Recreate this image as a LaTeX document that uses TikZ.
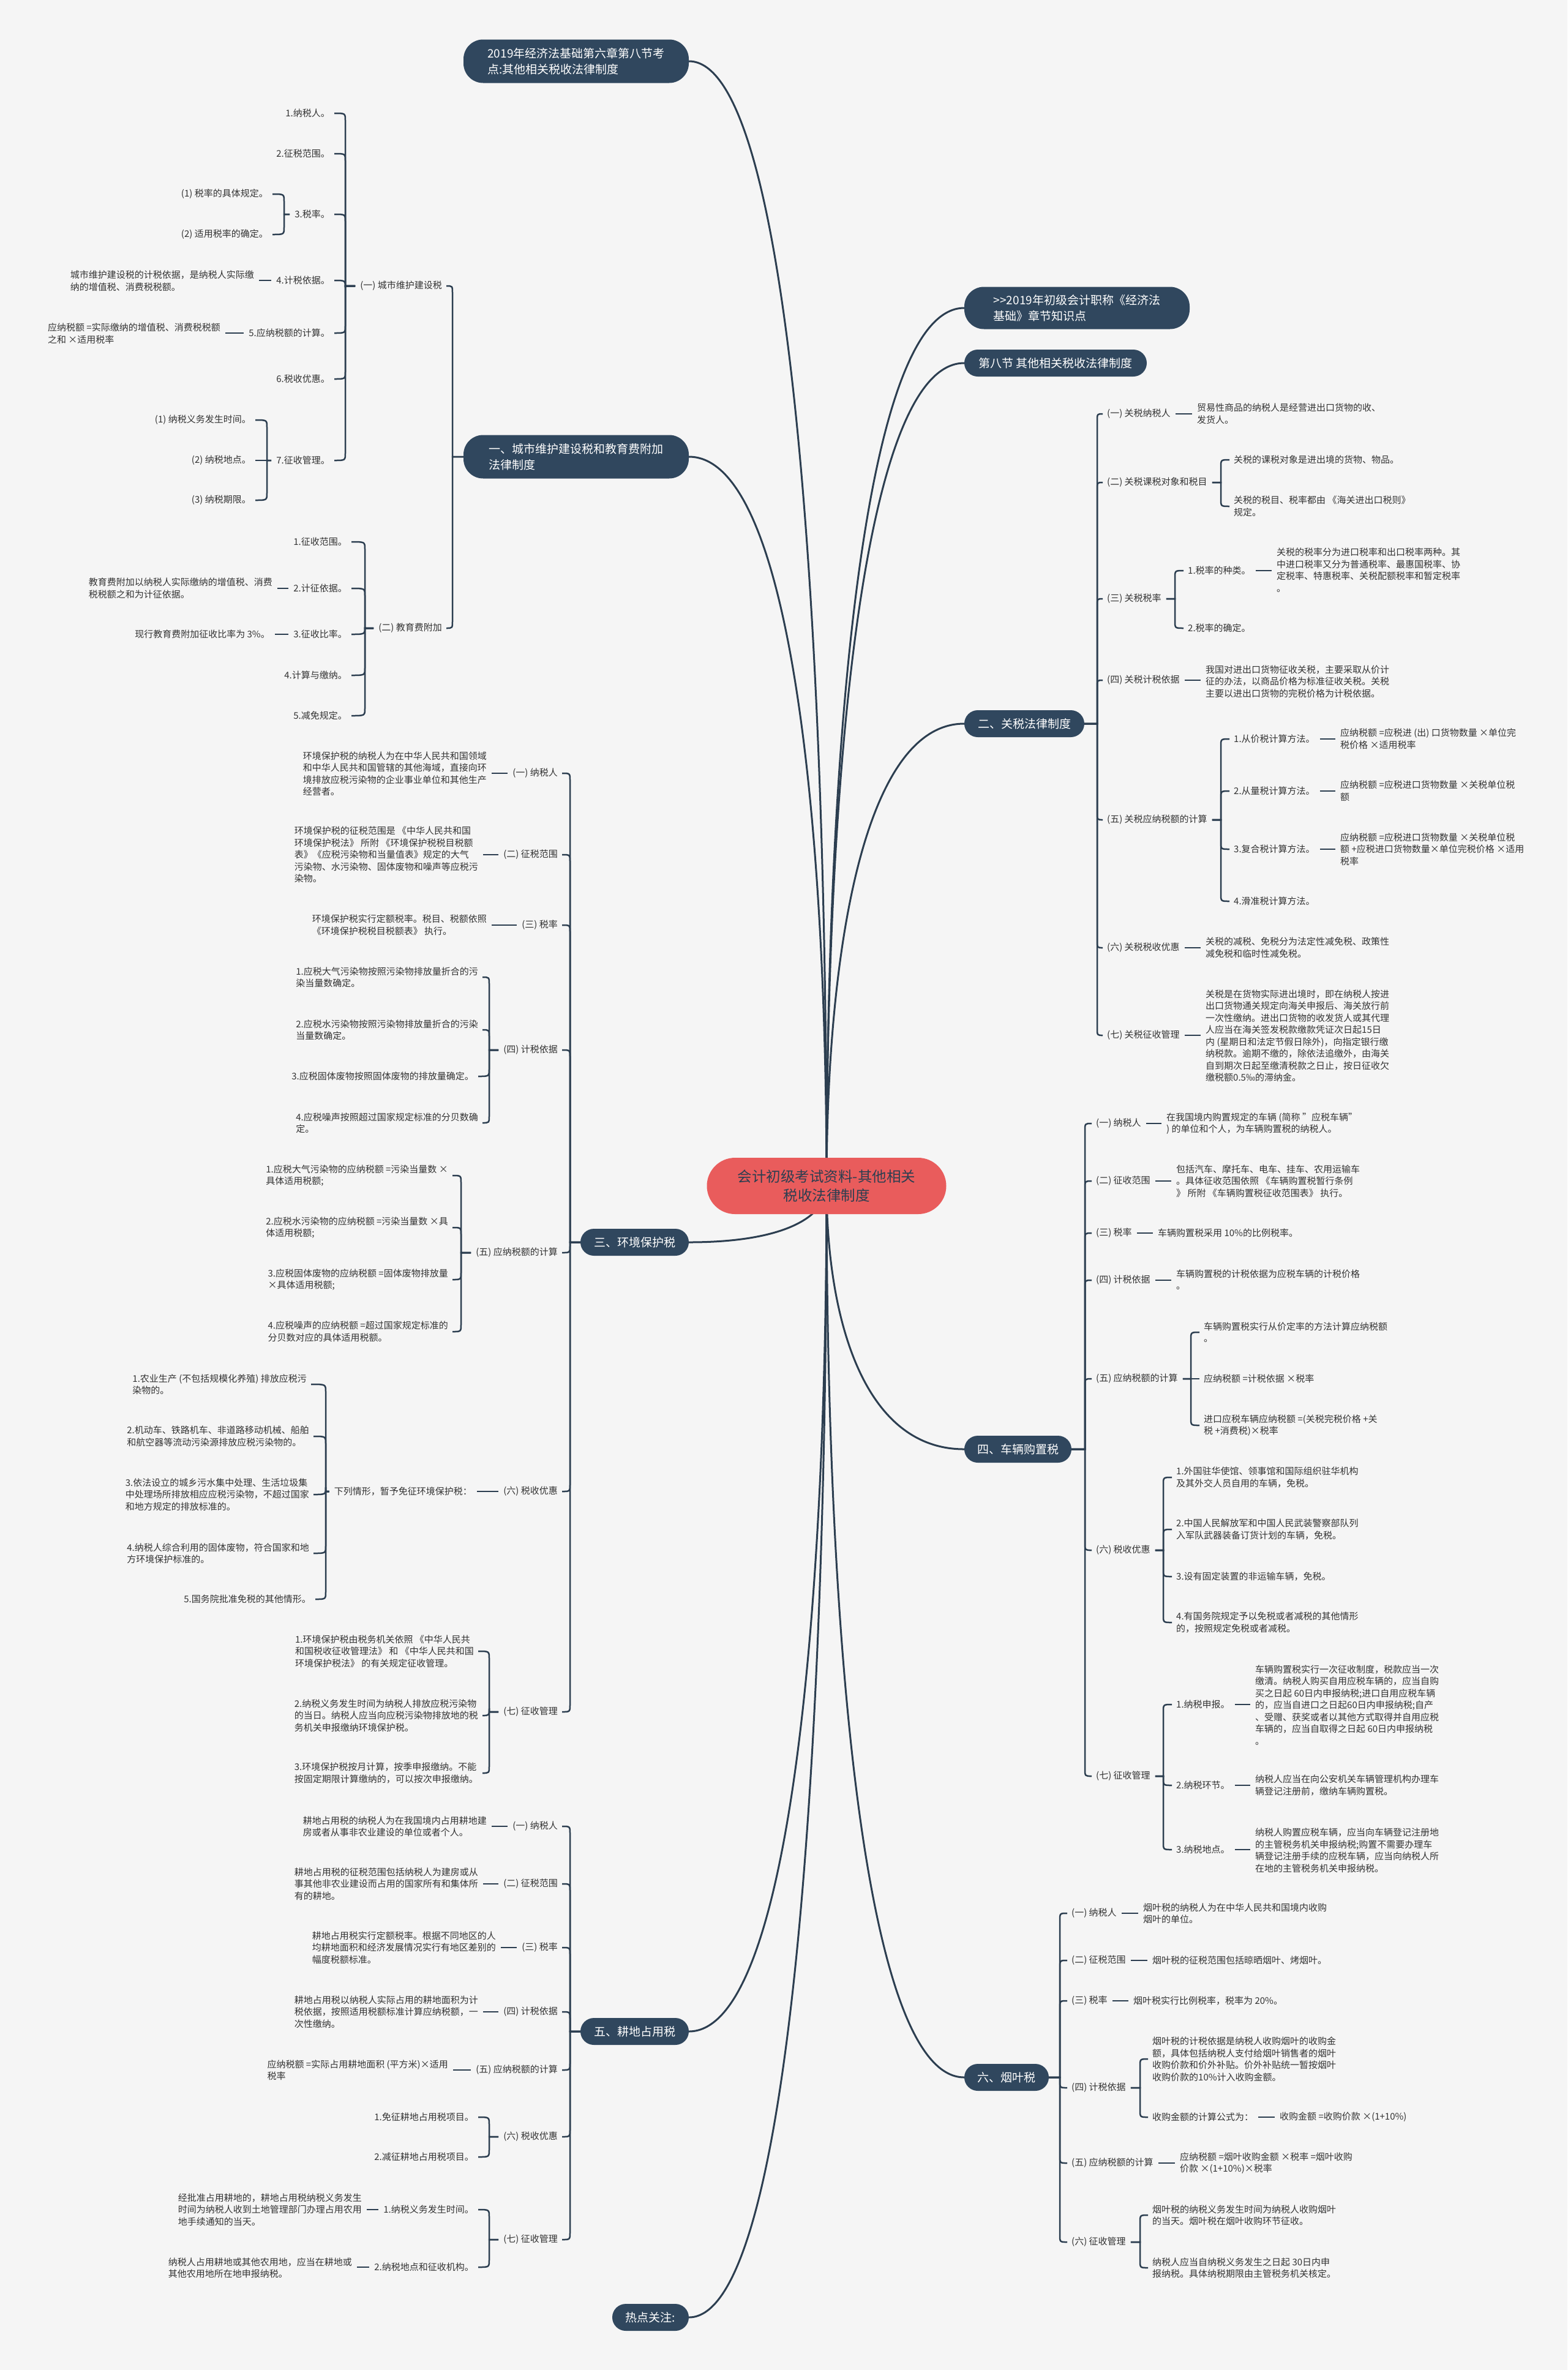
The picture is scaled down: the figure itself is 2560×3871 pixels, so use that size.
\documentclass[tikz,border=0pt]{standalone}
\usepackage{fontspec}
\setmainfont{Noto Sans CJK SC}
\usetikzlibrary{calc}
\definecolor{bgc}{HTML}{F5F5F5}
\definecolor{lc}{HTML}{2C3E50}
\definecolor{mc}{HTML}{30475E}
\definecolor{tc}{HTML}{333333}
\definecolor{rootc}{HTML}{E95C5C}
\definecolor{roottc}{HTML}{2C3E50}
\pgfdeclarelayer{back}\pgfdeclarelayer{bg}
\pgfsetlayers{back,bg,main}
\tikzset{
  conn/.style={draw=lc, line width=2.5pt},
  rconn/.style={draw=lc, line width=3pt},
  txt/.style={inner sep=0pt, font=\fontsize{15}{19.5}\selectfont, text=tc, align=left},
  mainnode/.style={fill=mc, text=white, rounded corners=22pt, font=\fontsize{19}{26}\selectfont, inner sep=0pt, align=left, minimum height=44pt},
}
\newcommand\tL[3]{\node[txt,anchor=east] (#1) at (#2) {#3};}
\newcommand\tR[3]{\node[txt,anchor=west] (#1) at (#2) {#3};}
\newcommand\hookL[4][8pt]{\begin{pgfonlayer}{bg}\draw[conn] let \p1=(#2.west), \p2=(#3.east) in ({\x1-#1},\y1) -- (#4pt,\y1) -- (#4pt,{\y2-12pt*sign(\y2-\y1)}) .. controls (#4pt,\y2) .. ({\x2+7pt},\y2);\end{pgfonlayer}}
\newcommand\hookR[4][8pt]{\begin{pgfonlayer}{bg}\draw[conn] let \p1=(#2.east), \p2=(#3.west) in ({\x1+#1},\y1) -- (#4pt,\y1) -- (#4pt,{\y2-12pt*sign(\y2-\y1)}) .. controls (#4pt,\y2) .. ({\x2-7pt},\y2);\end{pgfonlayer}}
\newcommand\linkL[2]{\begin{pgfonlayer}{bg}\draw[conn] let \p1=(#1.west), \p2=(#2.east) in ({\x1-8pt},\y1) -- ({\x2+8pt},\y1);\end{pgfonlayer}}
\newcommand\linkR[2]{\begin{pgfonlayer}{bg}\draw[conn] let \p1=(#1.east), \p2=(#2.west) in ({\x1+8pt},\y1) -- ({\x2-8pt},\y1);\end{pgfonlayer}}
\newcommand\rootL[1]{\begin{pgfonlayer}{bg}\draw[rconn] let \p1=(root.center), \p2=(#1.east) in (\p2) .. controls ({\x2+165pt},\y2) and (\x1,{(\y1+\y2)/2}) .. (\p1);\end{pgfonlayer}}
\newcommand\rootR[1]{\begin{pgfonlayer}{bg}\draw[rconn] let \p1=(root.center), \p2=(#1.west) in (\p2) .. controls ({\x2-165pt},\y2) and (\x1,{(\y1+\y2)/2}) .. (\p1);\end{pgfonlayer}}
\begin{document}
\begin{tikzpicture}[x=1pt,y=-1pt]
\begin{pgfonlayer}{back}
\fill[bgc] (0,0) rectangle (2560,3871);
\end{pgfonlayer}
\useasboundingbox (0,0) rectangle (2560,3871);

% ---------- root and main nodes ----------
\node[fill=rootc, text=roottc, rounded corners=46pt, minimum width=391pt, minimum height=92pt, inner sep=0pt, font=\fontsize{23.5}{31}\selectfont, align=center] (root) at (1350,1937) {会计初级考试资料-其他相关\\税收法律制度};
\node[mainnode, minimum width=368pt, minimum height=71pt, rounded corners=32pt] (title) at (941,100) {2019年经济法基础第六章第八节考\\点:其他相关税收法律制度};
\node[mainnode, minimum width=368pt, minimum height=71pt, rounded corners=32pt] (m1) at (941,746) {一、城市维护建设税和教育费附加\\法律制度};
\node[mainnode, minimum width=177pt] (m3) at (1036.5,2029) {三、环境保护税};
\node[mainnode, minimum width=177pt] (m5) at (1036.5,3318) {五、耕地占用税};
\node[mainnode, minimum width=125pt] (hot) at (1062.5,3785) {热点关注:};
\node[mainnode, minimum width=368pt, minimum height=69pt, rounded corners=32pt] (r1) at (1759,503) {>{}>2019年初级会计职称《经济法\\基础》章节知识点};
\node[mainnode, minimum width=298pt] (r2) at (1724,593) {第八节 其他相关税收法律制度};
\node[mainnode, minimum width=196pt] (m2) at (1673,1182) {二、关税法律制度};
\node[mainnode, minimum width=175pt] (m4) at (1662.5,2367) {四、车辆购置税};
\node[mainnode, minimum width=138pt] (m6) at (1644,3393) {六、烟叶税};

\rootL{title}\rootL{m1}\rootL{m3}\rootL{m5}\rootL{hot}
\rootR{r1}\rootR{r2}\rootR{m2}\rootR{m4}\rootR{m6}

% ---------- Section 1 ----------
\tL{a1}{722,467}{(一) 城市维护建设税}
\tL{a11}{539,185}{1.纳税人。}
\tL{a12}{539,251}{2.征税范围。}
\tL{a13}{539,350}{3.税率。}
\tL{a131}{438,317}{(1) 税率的具体规定。}
\tL{a132}{438,383}{(2) 适用税率的确定。}
\tL{a14}{539,458}{4.计税依据。}
\tL{a14t}{415,459}{城市维护建设税的计税依据，是纳税人实际缴\\纳的增值税、消费税税额。}
\tL{a15}{539,544}{5.应纳税额的计算。}
\tL{a15t}{360,545}{应纳税额 =实际缴纳的增值税、消费税税额\\之和 ×适用税率}
\tL{a16}{539,619}{6.税收优惠。}
\tL{a17}{539,752}{7.征收管理。}
\tL{a171}{410,686}{(1) 纳税义务发生时间。}
\tL{a172}{410,752}{(2) 纳税地点。}
\tL{a173}{410,817}{(3) 纳税期限。}
\tL{a2}{722,1026}{(二) 教育费附加}
\tL{a21}{567,885}{1.征收范围。}
\tL{a22}{567,961}{2.计征依据。}
\tL{a22t}{445,961}{教育费附加以纳税人实际缴纳的增值税、消费\\税税额之和为计征依据。}
\tL{a23}{567,1036}{3.征收比率。}
\tL{a23t}{441,1036}{现行教育费附加征收比率为 3\%。}
\tL{a24}{567,1103}{4.计算与缴纳。}
\tL{a25}{567,1169}{5.减免规定。}
\hookL[0pt]{m1}{a1}{739}\hookL[0pt]{m1}{a2}{739}
\hookL{a1}{a11}{564}\hookL{a1}{a12}{564}\hookL{a1}{a13}{564}\hookL{a1}{a14}{564}
\hookL{a1}{a15}{564}\hookL{a1}{a16}{564}\hookL{a1}{a17}{564}
\hookL{a13}{a131}{464}\hookL{a13}{a132}{464}
\linkL{a14}{a14t}\linkL{a15}{a15t}
\hookL{a17}{a171}{436}\hookL{a17}{a172}{436}\hookL{a17}{a173}{436}
\hookL{a2}{a21}{596}\hookL{a2}{a22}{596}\hookL{a2}{a23}{596}\hookL{a2}{a24}{596}\hookL{a2}{a25}{596}
\linkL{a22}{a22t}\linkL{a23}{a23t}

% ---------- Section 3 ----------
\tL{c1}{911,1263}{(一) 纳税人}
\tL{c1t}{795,1264}{环境保护税的纳税人为在中华人民共和国领域\\和中华人民共和国管辖的其他海域，直接向环\\境排放应税污染物的企业事业单位和其他生产\\经营者。}
\tL{c2}{911,1396}{(二) 征税范围}
\tL{c2t}{781,1396}{环境保护税的征税范围是 《中华人民共和国\\环境保护税法》 所附 《环境保护税税目税额\\表》《应税污染物和当量值表》规定的大气\\污染物、水污染物、固体废物和噪声等应税污\\染物。}
\tL{c3}{911,1511}{(三) 税率}
\tL{c3t}{795,1511}{环境保护税实行定额税率。税目、税额依照\\《环境保护税税目税额表》 执行。}
\tL{c4}{911,1715}{(四) 计税依据}
\tL{c41}{781,1596}{1.应税大气污染物按照污染物排放量折合的污\\染当量数确定。}
\tL{c42}{781,1682}{2.应税水污染物按照污染物排放量折合的污染\\当量数确定。}
\tL{c43}{774,1758}{3.应税固体废物按照固体废物的排放量确定。}
\tL{c44}{781,1834}{4.应税噪声按照超过国家规定标准的分贝数确\\定。}
\tL{c5}{911,2046}{(五) 应纳税额的计算}
\tL{c51}{732,1920}{1.应税大气污染物的应纳税额 =污染当量数 ×\\具体适用税额;}
\tL{c52}{732,2005}{2.应税水污染物的应纳税额 =污染当量数 ×具\\体适用税额;}
\tL{c53}{732,2090}{3.应税固体废物的应纳税额 =固体废物排放量\\ ×具体适用税额;}
\tL{c54}{732,2175}{4.应税噪声的应纳税额 =超过国家规定标准的\\分贝数对应的具体适用税额。}
\tL{c6}{911,2436}{(六) 税收优惠}
\tL{c6a}{771,2436}{下列情形，暂予免征环境保护税：}
\tL{c61}{501,2261}{1.农业生产 (不包括规模化养殖) 排放应税污\\染物的。}
\tL{c62}{505,2346}{2.机动车、铁路机车、非道路移动机械、船舶\\和航空器等流动污染源排放应税污染物的。}
\tL{c63}{505,2441}{3.依法设立的城乡污水集中处理、生活垃圾集\\中处理场所排放相应应税污染物，不超过国家\\和地方规定的排放标准的。}
\tL{c64}{505,2537}{4.纳税人综合利用的固体废物，符合国家和地\\方环境保护标准的。}
\tL{c65}{508,2612}{5.国务院批准免税的其他情形。}
\tL{c7}{911,2796}{(七) 征收管理}
\tL{c71}{774,2697}{1.环境保护税由税务机关依照 《中华人民共\\和国税收征收管理法》 和 《中华人民共和国\\环境保护税法》 的有关规定征收管理。}
\tL{c72}{781,2802}{2.纳税义务发生时间为纳税人排放应税污染物\\的当日。纳税人应当向应税污染物排放地的税\\务机关申报缴纳环境保护税。}
\tL{c73}{781,2896}{3.环境保护税按月计算，按季申报缴纳。不能\\按固定期限计算缴纳的，可以按次申报缴纳。}
\hookL[0pt]{m3}{c1}{931}\hookL[0pt]{m3}{c2}{931}\hookL[0pt]{m3}{c3}{931}\hookL[0pt]{m3}{c4}{931}
\hookL[0pt]{m3}{c5}{931}\hookL[0pt]{m3}{c6}{931}\hookL[0pt]{m3}{c7}{931}
\linkL{c1}{c1t}\linkL{c2}{c2t}\linkL{c3}{c3t}
\hookL{c4}{c41}{799}\hookL{c4}{c42}{799}\hookL{c4}{c43}{799}\hookL{c4}{c44}{799}
\hookL{c5}{c51}{753}\hookL{c5}{c52}{753}\hookL{c5}{c53}{753}\hookL{c5}{c54}{753}
\linkL{c6}{c6a}
\hookL{c6a}{c61}{532}\hookL{c6a}{c62}{532}\hookL{c6a}{c63}{532}\hookL{c6a}{c64}{532}\hookL{c6a}{c65}{532}
\hookL{c7}{c71}{799}\hookL{c7}{c72}{799}\hookL{c7}{c73}{799}

% ---------- Section 5 ----------
\tL{e1}{911,2983}{(一) 纳税人}
\tL{e1t}{795,2983}{耕地占用税的纳税人为在我国境内占用耕地建\\房或者从事非农业建设的单位或者个人。}
\tL{e2}{911,3077}{(二) 征税范围}
\tL{e2t}{781,3077}{耕地占用税的征税范围包括纳税人为建房或从\\事其他非农业建设而占用的国家所有和集体所\\有的耕地。}
\tL{e3}{911,3181}{(三) 税率}
\tL{e3t}{810,3181}{耕地占用税实行定额税率。根据不同地区的人\\均耕地面积和经济发展情况实行有地区差别的\\幅度税额标准。}
\tL{e4}{911,3286}{(四) 计税依据}
\tL{e4t}{781,3286}{耕地占用税以纳税人实际占用的耕地面积为计\\税依据，按照适用税额标准计算应纳税额，一\\次性缴纳。}
\tL{e5}{911,3381}{(五) 应纳税额的计算}
\tL{e5t}{732,3381}{应纳税额 =实际占用耕地面积 (平方米)×适用\\税率}
\tL{e6}{911,3490}{(六) 税收优惠}
\tL{e61}{774,3458}{1.免征耕地占用税项目。}
\tL{e62}{774,3523}{2.减征耕地占用税项目。}
\tL{e7}{911,3658}{(七) 征收管理}
\tL{e71}{774,3609}{1.纳税义务发生时间。}
\tL{e71t}{591,3609}{经批准占用耕地的，耕地占用税纳税义务发生\\时间为纳税人收到土地管理部门办理占用农用\\地手续通知的当天。}
\tL{e72}{774,3703}{2.纳税地点和征收机构。}
\tL{e72t}{575,3704}{纳税人占用耕地或其他农用地，应当在耕地或\\其他农用地所在地申报纳税。}
\hookL[0pt]{m5}{e1}{931}\hookL[0pt]{m5}{e2}{931}\hookL[0pt]{m5}{e3}{931}\hookL[0pt]{m5}{e4}{931}
\hookL[0pt]{m5}{e5}{931}\hookL[0pt]{m5}{e6}{931}\hookL[0pt]{m5}{e7}{931}
\linkL{e1}{e1t}\linkL{e2}{e2t}\linkL{e3}{e3t}\linkL{e4}{e4t}\linkL{e5}{e5t}
\hookL{e6}{e61}{799}\hookL{e6}{e62}{799}
\hookL{e7}{e71}{799}\hookL{e7}{e72}{799}
\linkL{e71}{e71t}\linkL{e72}{e72t}

% ---------- Section 2 ----------
\tR{b1}{1808,676}{(一) 关税纳税人}
\tR{b1t}{1955,676}{贸易性商品的纳税人是经营进出口货物的收、\\发货人。}
\tR{b2}{1808,788}{(二) 关税课税对象和税目}
\tR{b21}{2015,751}{关税的课税对象是进出境的货物、物品。}
\tR{b22}{2015,827}{关税的税目、税率都由 《海关进出口税则》\\规定。}
\tR{b3}{1808,978}{(三) 关税税率}
\tR{b31}{1940,932}{1.税率的种类。}
\tR{b31t}{2085,931}{关税的税率分为进口税率和出口税率两种。其\\中进口税率又分为普通税率、最惠国税率、协\\定税率、特惠税率、关税配额税率和暂定税率\\。}
\tR{b32}{1940,1026}{2.税率的确定。}
\tR{b4}{1808,1111}{(四) 关税计税依据}
\tR{b4t}{1969,1113}{我国对进出口货物征收关税，主要采取从价计\\征的办法，以商品价格为标准征收关税。关税\\主要以进出口货物的完税价格为计税依据。}
\tR{b5}{1808,1339}{(五) 关税应纳税额的计算}
\tR{b51}{2015,1207}{1.从价税计算方法。}
\tR{b51t}{2189,1207}{应纳税额 =应税进 (出) 口货物数量 ×单位完\\税价格 ×适用税率}
\tR{b52}{2015,1292}{2.从量税计算方法。}
\tR{b52t}{2189,1292}{应纳税额 =应税进口货物数量 ×关税单位税\\额}
\tR{b53}{2015,1387}{3.复合税计算方法。}
\tR{b53t}{2189,1387}{应纳税额 =应税进口货物数量 ×关税单位税\\额 +应税进口货物数量×单位完税价格 ×适用\\税率}
\tR{b54}{2015,1472}{4.滑准税计算方法。}
\tR{b6}{1808,1548}{(六) 关税税收优惠}
\tR{b6t}{1969,1548}{关税的减税、免税分为法定性减免税、政策性\\减免税和临时性减免税。}
\tR{b7}{1808,1691}{(七) 关税征收管理}
\tR{b7t}{1969,1692}{关税是在货物实际进出境时，即在纳税人按进\\出口货物通关规定向海关申报后、海关放行前\\一次性缴纳。进出口货物的收发货人或其代理\\人应当在海关签发税款缴款凭证次日起15日\\内 (星期日和法定节假日除外)，向指定银行缴\\纳税款。逾期不缴的，除依法追缴外，由海关\\自到期次日起至缴清税款之日止，按日征收欠\\缴税额0.5‰的滞纳金。}
\hookR[0pt]{m2}{b1}{1792}\hookR[0pt]{m2}{b2}{1792}\hookR[0pt]{m2}{b3}{1792}\hookR[0pt]{m2}{b4}{1792}
\hookR[0pt]{m2}{b5}{1792}\hookR[0pt]{m2}{b6}{1792}\hookR[0pt]{m2}{b7}{1792}
\linkR{b1}{b1t}
\hookR{b2}{b21}{1994}\hookR{b2}{b22}{1994}
\hookR{b3}{b31}{1919}\hookR{b3}{b32}{1919}\linkR{b31}{b31t}
\linkR{b4}{b4t}
\hookR{b5}{b51}{1994}\hookR{b5}{b52}{1994}\hookR{b5}{b53}{1994}\hookR{b5}{b54}{1994}
\linkR{b51}{b51t}\linkR{b52}{b52t}\linkR{b53}{b53t}
\linkR{b6}{b6t}\linkR{b7}{b7t}

% ---------- Section 4 ----------
\tR{d1}{1790,1835}{(一) 纳税人}
\tR{d1t}{1905,1835}{在我国境内购置规定的车辆 (简称 "应税车辆"\\) 的单位和个人，为车辆购置税的纳税人。}
\tR{d2}{1790,1929}{(二) 征收范围}
\tR{d2t}{1921,1929}{包括汽车、摩托车、电车、挂车、农用运输车\\。具体征收范围依照 《车辆购置税暂行条例\\》 所附 《车辆购置税征收范围表》 执行。}
\tR{d3}{1790,2014}{(三) 税率}
\tR{d3t}{1891,2014}{车辆购置税采用 10\%的比例税率。}
\tR{d4}{1790,2091}{(四) 计税依据}
\tR{d4t}{1921,2090}{车辆购置税的计税依据为应税车辆的计税价格\\。}
\tR{d5}{1790,2252}{(五) 应纳税额的计算}
\tR{d51}{1966,2176}{车辆购置税实行从价定率的方法计算应纳税额\\。}
\tR{d52}{1966,2252}{应纳税额 =计税依据 ×税率}
\tR{d53}{1966,2328}{进口应税车辆应纳税额 =(关税完税价格 +关\\税 +消费税)×税率}
\tR{d6}{1790,2532}{(六) 税收优惠}
\tR{d61}{1921,2413}{1.外国驻华使馆、领事馆和国际组织驻华机构\\及其外交人员自用的车辆，免税。}
\tR{d62}{1921,2498}{2.中国人民解放军和中国人民武装警察部队列\\入军队武器装备订货计划的车辆，免税。}
\tR{d63}{1921,2575}{3.设有固定装置的非运输车辆，免税。}
\tR{d64}{1921,2650}{4.有国务院规定予以免税或者减税的其他情形\\的，按照规定免税或者减税。}
\tR{d7}{1790,2901}{(七) 征收管理}
\tR{d71}{1921,2784}{1.纳税申报。}
\tR{d71t}{2050,2785}{车辆购置税实行一次征收制度，税款应当一次\\缴清。纳税人购买自用应税车辆的，应当自购\\买之日起 60日内申报纳税;进口自用应税车辆\\的，应当自进口之日起60日内申报纳税;自产\\、受赠、获奖或者以其他方式取得并自用应税\\车辆的，应当自取得之日起 60日内申报纳税\\。}
\tR{d72}{1921,2916}{2.纳税环节。}
\tR{d72t}{2050,2916}{纳税人应当在向公安机关车辆管理机构办理车\\辆登记注册前，缴纳车辆购置税。}
\tR{d73}{1921,3021}{3.纳税地点。}
\tR{d73t}{2050,3022}{纳税人购置应税车辆，应当向车辆登记注册地\\的主管税务机关申报纳税;购置不需要办理车\\辆登记注册手续的应税车辆，应当向纳税人所\\在地的主管税务机关申报纳税。}
\hookR[0pt]{m4}{d1}{1772}\hookR[0pt]{m4}{d2}{1772}\hookR[0pt]{m4}{d3}{1772}\hookR[0pt]{m4}{d4}{1772}
\hookR[0pt]{m4}{d5}{1772}\hookR[0pt]{m4}{d6}{1772}\hookR[0pt]{m4}{d7}{1772}
\linkR{d1}{d1t}\linkR{d2}{d2t}\linkR{d3}{d3t}\linkR{d4}{d4t}
\hookR{d5}{d51}{1945}\hookR{d5}{d52}{1945}\hookR{d5}{d53}{1945}
\hookR{d6}{d61}{1900}\hookR{d6}{d62}{1900}\hookR{d6}{d63}{1900}\hookR{d6}{d64}{1900}
\hookR{d7}{d71}{1900}\hookR{d7}{d72}{1900}\hookR{d7}{d73}{1900}
\linkR{d71}{d71t}\linkR{d72}{d72t}\linkR{d73}{d73t}

% ---------- Section 6 ----------
\tR{f1}{1750,3125}{(一) 纳税人}
\tR{f1t}{1867,3125}{烟叶税的纳税人为在中华人民共和国境内收购\\烟叶的单位。}
\tR{f2}{1750,3202}{(二) 征税范围}
\tR{f2t}{1882,3202}{烟叶税的征税范围包括晾晒烟叶、烤烟叶。}
\tR{f3}{1750,3268}{(三) 税率}
\tR{f3t}{1851,3268}{烟叶税实行比例税率，税率为 20\%。}
\tR{f4}{1750,3410}{(四) 计税依据}
\tR{f41}{1882,3363}{烟叶税的计税依据是纳税人收购烟叶的收购金\\额，具体包括纳税人支付给烟叶销售者的烟叶\\收购价款和价外补贴。价外补贴统一暂按烟叶\\收购价款的10\%计入收购金额。}
\tR{f42}{1882,3458}{收购金额的计算公式为：}
\tR{f42t}{2090,3458}{收购金额 =收购价款 ×(1+10\%)}
\tR{f5}{1750,3533}{(五) 应纳税额的计算}
\tR{f5t}{1927,3533}{应纳税额 =烟叶收购金额 ×税率 =烟叶收购\\价款 ×(1+10\%)×税率}
\tR{f6}{1750,3662}{(六) 征收管理}
\tR{f61}{1882,3618}{烟叶税的纳税义务发生时间为纳税人收购烟叶\\的当天。烟叶税在烟叶收购环节征收。}
\tR{f62}{1882,3704}{纳税人应当自纳税义务发生之日起 30日内申\\报纳税。具体纳税期限由主管税务机关核定。}
\hookR[0pt]{m6}{f1}{1731}\hookR[0pt]{m6}{f2}{1731}\hookR[0pt]{m6}{f3}{1731}\hookR[0pt]{m6}{f4}{1731}
\hookR[0pt]{m6}{f5}{1731}\hookR[0pt]{m6}{f6}{1731}
\linkR{f1}{f1t}\linkR{f2}{f2t}\linkR{f3}{f3t}
\hookR{f4}{f41}{1862}\hookR{f4}{f42}{1862}\linkR{f42}{f42t}
\linkR{f5}{f5t}
\hookR{f6}{f61}{1862}\hookR{f6}{f62}{1862}
\end{tikzpicture}
\end{document}
